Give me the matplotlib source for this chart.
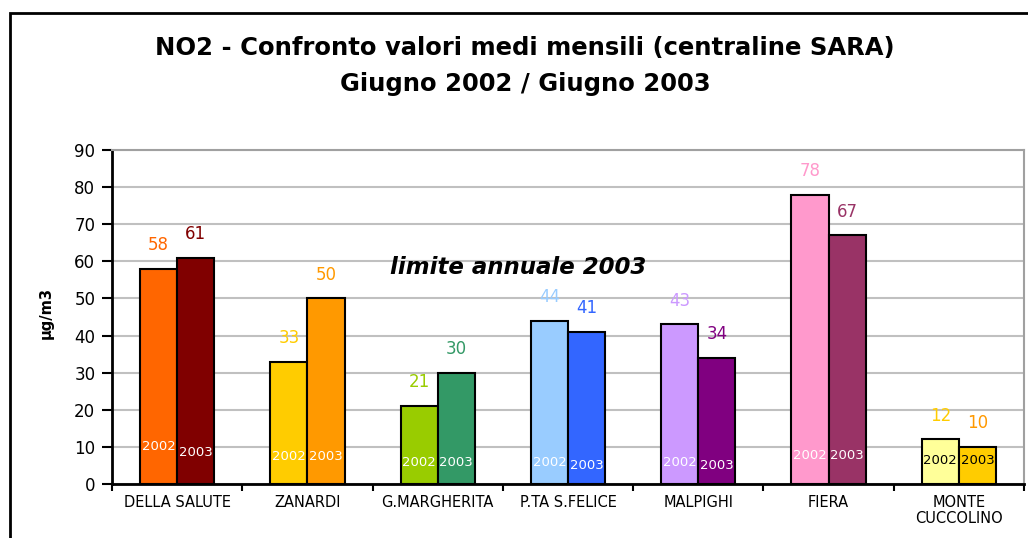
import numpy as np
import matplotlib
matplotlib.use('Agg')
import matplotlib.pyplot as plt
from matplotlib.patches import Rectangle

# the original text is very wide (letter-spaced), DejaVu comes closer than Arial
plt.rcParams['font.family'] = ['DejaVu Sans']

# data
stations = ['DELLA SALUTE', 'ZANARDI', 'G.MARGHERITA', 'P.TA S.FELICE',
            'MALPIGHI', 'FIERA', 'MONTE\nCUCCOLINO']
val2002 = [58, 33, 21, 44, 43, 78, 12]
val2003 = [61, 50, 30, 41, 34, 67, 10]
col2002 = ['#FF6600', '#FFCC00', '#99CC00', '#99CCFF', '#CC99FF', '#FF99CC', '#FFFF99']
col2003 = ['#800000', '#FF9900', '#339966', '#3366FF', '#800080', '#993366', '#FFCC00']
txt2002 = ['#FF6600', '#FFCC00', '#99CC00', '#99CCFF', '#CC99FF', '#FF99CC', '#FFCC00']
txt2003 = ['#800000', '#FF9900', '#339966', '#3366FF', '#800080', '#993366', '#FF9900']
yearcol = ['white'] * 6 + ['black']
# heights (data units) of the small year labels inside the bars
ylab2002 = [10.0, 7.5, 5.9, 5.9, 5.9, 7.8, 6.2]
ylab2003 = [8.6, 7.5, 5.9, 5.1, 5.1, 7.8, 6.2]

fig = plt.figure(figsize=(10.28, 5.38), dpi=100)
ax = fig.add_axes([112/1028, 1 - 484/538, (1024 - 112)/1028, (484 - 150)/538])

x = np.arange(len(stations))
w = 0.285
ax.bar(x - w/2, val2002, w, color=col2002, edgecolor='black', linewidth=1.5, zorder=3)
ax.bar(x + w/2, val2003, w, color=col2003, edgecolor='black', linewidth=1.5, zorder=3)

for i in range(len(stations)):
	ax.annotate(str(val2002[i]), (x[i] - w/2, val2002[i]), xytext=(0, 17), textcoords='offset points',
	            ha='center', va='center', fontsize=12, color=txt2002[i])
	ax.annotate(str(val2003[i]), (x[i] + w/2, val2003[i]), xytext=(0, 17), textcoords='offset points',
	            ha='center', va='center', fontsize=12, color=txt2003[i])
	ax.text(x[i] - w/2, ylab2002[i], '2002', ha='center', va='center', fontsize=9.5, color=yearcol[i], zorder=4)
	ax.text(x[i] + w/2, ylab2003[i], '2003', ha='center', va='center', fontsize=9.5, color=yearcol[i], zorder=4)

ax.text(1.63, 58.3, 'limite annuale 2003', fontsize=16.5, fontweight='bold', style='italic', ha='left', va='center')

ax.set_xlim(-0.5, len(stations) - 0.5)
ax.set_ylim(0, 90)
ax.set_yticks(range(0, 91, 10))
ax.tick_params(axis='y', labelsize=12, length=7, width=1.5, direction='out', pad=5)
ax.set_xticks(np.arange(-0.5, len(stations), 1.0))
ax.set_xticklabels([])
ax.tick_params(axis='x', which='major', length=5, width=1.5, direction='out')
ax.set_xticks(x, minor=True)
ax.set_xticklabels(stations, minor=True, fontsize=10.5, linespacing=1.1)
ax.tick_params(axis='x', which='minor', length=0, pad=8)
ax.grid(axis='y', color='#C0C0C0', linewidth=1.5, zorder=0)
ax.set_axisbelow(True)
for s in ['top', 'right']:
	ax.spines[s].set_color('#A0A0A0')
	ax.spines[s].set_linewidth(1.5)
for s in ['left', 'bottom']:
	ax.spines[s].set_linewidth(2)
ax.set_ylabel('µg/m3', fontsize=10.5, fontweight='bold')
ax.yaxis.set_label_coords(-0.064, 0.512)

fig.text(525/1028, 1 - 48/538, 'NO2 - Confronto valori medi mensili (centraline SARA)',
         ha='center', va='center', fontsize=17.5, fontweight='bold')
fig.text(525/1028, 1 - 84/538, 'Giugno 2002 / Giugno 2003',
         ha='center', va='center', fontsize=17.5, fontweight='bold')

fig.patches.append(Rectangle((10/1028, -0.1), 1.2, 1 - 13/538 + 0.1, transform=fig.transFigure,
                             fill=False, edgecolor='black', linewidth=2, clip_on=False))

plt.savefig('out.png', dpi=100)
